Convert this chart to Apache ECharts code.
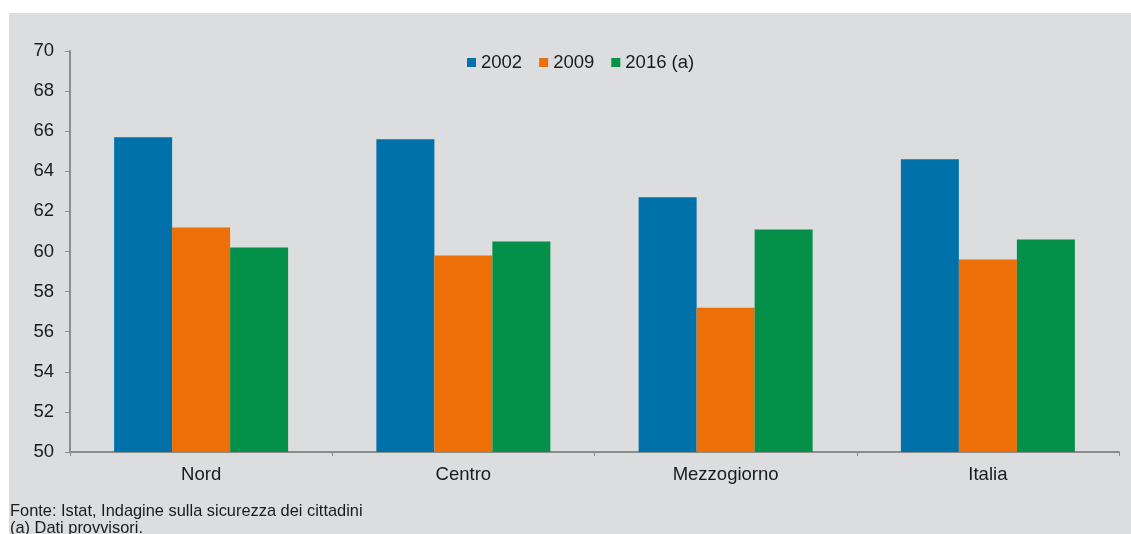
<!DOCTYPE html>
<html>
<head>
<meta charset="utf-8">
<script src="https://cdn.jsdelivr.net/npm/echarts@6/dist/echarts.min.js"></script>
<style>
  html, body { margin: 0; padding: 0; background: #ffffff; }
  #chart { width: 1131px; height: 534px; }
</style>
</head>
<body>
<div id="chart"></div>
<script>
// Aree geografiche e valori percentuali per anno
const categories = ['Nord', 'Centro', 'Mezzogiorno', 'Italia'];
const seriesNames = ['2002', '2009', '2016 (a)'];
const values2002 = [65.7, 65.6, 62.7, 64.6];
const values2009 = [61.2, 59.8, 57.2, 59.6];
const values2016 = [60.2, 60.5, 61.1, 60.6];
const yTicks = [50, 52, 54, 56, 58, 60, 62, 64, 66, 68, 70];
const footnotes = ['Fonte: Istat, Indagine sulla sicurezza dei cittadini', '(a) Dati provvisori.'];

const colors = ['#0071A9', '#EC6F07', '#05904A'];
const axisColor = '#8C8C8C';
const textColor = '#1a1a1a';
const font = '"Liberation Sans", Arial, sans-serif';

const chart = echarts.init(document.getElementById('chart'), null, { renderer: 'canvas' });

const barSeries = [values2002, values2009, values2016].map((vals, i) => ({
  name: seriesNames[i],
  type: 'bar',
  data: vals,
  barWidth: 58,
  barGap: '0%',
  itemStyle: { color: colors[i] },
  z: 2
}));

chart.setOption({
  backgroundColor: '#ffffff',
  animation: false,
  color: colors,
  graphic: [
    {
      type: 'rect',
      shape: { x: 9, y: 13, width: 1131 - 9, height: 534 - 13 },
      style: { fill: '#DCDDDF' },
      z: -10,
      silent: true
    },
    {
      type: 'text',
      left: 10,
      top: 503,
      style: {
        text: footnotes.join('\n'),
        font: '16.4px ' + font,
        fill: textColor,
        lineHeight: 17
      },
      z: 5
    }
  ],
  legend: {
    data: seriesNames,
    top: 48,
    left: 462,
    itemWidth: 9,
    itemHeight: 9,
    itemGap: 17,
    icon: 'rect',
    textStyle: { fontFamily: font, fontSize: 18.5, color: textColor, padding: [0, 0, 0, 0] }
  },
  grid: { left: 70, right: 12, top: 51, bottom: 82, containLabel: false },
  xAxis: {
    type: 'category',
    data: categories,
    axisLine: { lineStyle: { color: axisColor, width: 2 } },
    axisTick: { show: true, length: 4, lineStyle: { color: axisColor, width: 1 }, alignWithLabel: false },
    axisLabel: { fontFamily: font, fontSize: 18.5, color: textColor, margin: 13 },
    splitLine: { show: false }
  },
  yAxis: {
    type: 'value',
    min: yTicks[0],
    max: yTicks[yTicks.length - 1],
    interval: yTicks[1] - yTicks[0],
    axisLine: { show: true, lineStyle: { color: axisColor, width: 2 } },
    axisTick: { show: true, length: 5, lineStyle: { color: axisColor, width: 1 } },
    axisLabel: { fontFamily: font, fontSize: 18.5, color: textColor, margin: 16 },
    splitLine: { show: false }
  },
  series: barSeries
});
</script>
</body>
</html>
